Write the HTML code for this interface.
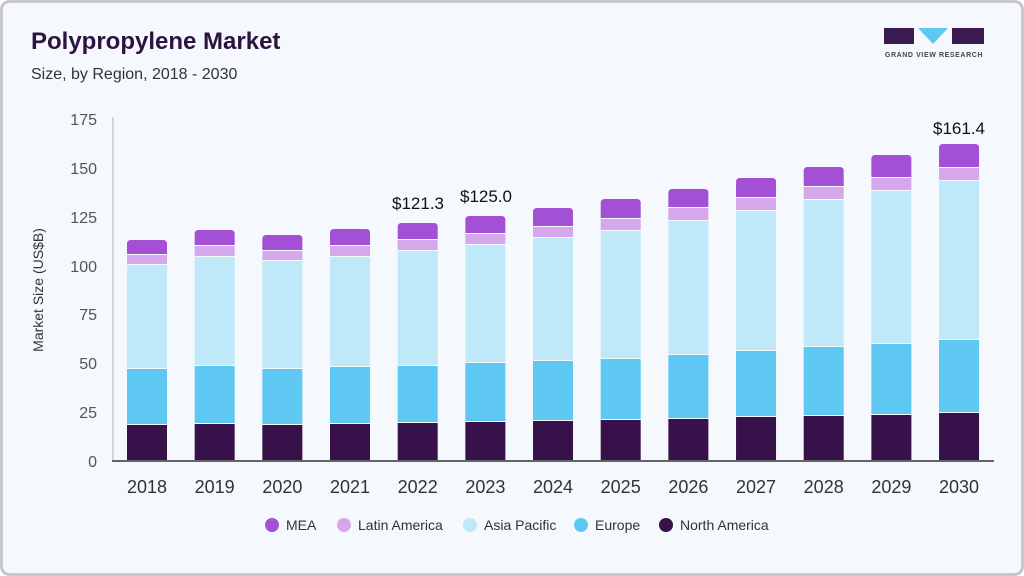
<!DOCTYPE html>
<html><head><style>
html,body{margin:0;padding:0;background:#fff}
body{width:1024px;height:576px;overflow:hidden}
svg{display:block;font-family:"Liberation Sans",Arial,sans-serif}
</style></head><body>
<svg width="1024" height="576" viewBox="0 0 1024 576">
<rect x="1.5" y="1.5" width="1021" height="573" rx="8" fill="#f5f8fc" stroke="#c8c8c8" stroke-width="3"/>
<text x="31" y="49" font-size="24" font-weight="bold" fill="#2d1440">Polypropylene Market</text>
<text x="31" y="79" font-size="16" fill="#333">Size, by Region, 2018 - 2030</text>
<g>
<rect x="884" y="28" width="30" height="16" fill="#3b1a4f"/>
<polygon points="918,28 948,28 933,44" fill="#5ec8f2"/>
<rect x="952" y="28" width="32" height="16" fill="#3b1a4f"/>
<text x="934" y="57" font-size="7" font-weight="bold" fill="#444" text-anchor="middle" letter-spacing="0.6">GRAND VIEW RESEARCH</text>
</g>
<g font-size="16" fill="#555" text-anchor="end">
<text x="97" y="125">175</text><text x="97" y="174">150</text><text x="97" y="223">125</text>
<text x="97" y="272">100</text><text x="97" y="320">75</text><text x="97" y="369">50</text>
<text x="97" y="418">25</text><text x="97" y="467">0</text>
</g>
<text transform="translate(43,290) rotate(-90)" font-size="14" fill="#333" text-anchor="middle">Market Size (US$B)</text>
<line x1="113" y1="117" x2="113" y2="461" stroke="#ccc" stroke-width="1.5"/>
<g id="bars"></g>
<line x1="112" y1="461" x2="994" y2="461" stroke="#333" stroke-width="1.5"/>
<g font-size="18" fill="#333" text-anchor="middle" id="xl"></g>
<g font-size="17" fill="#111" text-anchor="middle">
<text x="418" y="209">$121.3</text><text x="486" y="202">$125.0</text><text x="959" y="134">$161.4</text>
</g>
<g font-size="14" fill="#333">
<circle cx="272" cy="525" r="7" fill="#a34fd6"/><text x="286" y="530">MEA</text>
<circle cx="344" cy="525" r="7" fill="#d4a8ea"/><text x="358" y="530">Latin America</text>
<circle cx="470" cy="525" r="7" fill="#bfe9f9"/><text x="484" y="530">Asia Pacific</text>
<circle cx="581" cy="525" r="7" fill="#5ec8f2"/><text x="595" y="530">Europe</text>
<circle cx="666" cy="525" r="7" fill="#36114a"/><text x="680" y="530">North America</text>
</g>
</svg>
<script>
var d=[[425,369,265,255,240],[424,366,257,246,230],[425,369,261,251,235],[424,367,257,246,229],[423,366,251,240,223],[422,363,245,234,216],[421,361,238,227,208],[420,359,231,219,199],[419,355,221,208,189],[417,351,211,198,178],[416,347,200,187,167],[415,344,191,178,155],[413,340,181,168,144]];
var c=["#36114a","#5ec8f2","#bfe9f9","#d4a8ea","#a34fd6"];
var s="",l="";
d.forEach(function(b,i){var cx=147+i*67.67,x=cx-20,prev=461;
for(var k=0;k<5;k++){var t=b[k],h=prev-t;
if(k<4)s+='<rect x="'+x+'" y="'+t+'" width="40" height="'+(h-1)+'" fill="'+c[k]+'"/>';
else s+='<path d="M'+x+','+(prev-1)+'V'+(t+4)+'Q'+x+','+t+' '+(x+4)+','+t+'H'+(x+36)+'Q'+(x+40)+','+t+' '+(x+40)+','+(t+4)+'V'+(prev-1)+'Z" fill="'+c[k]+'"/>';
prev=t;}
l+='<text x="'+cx+'" y="493">'+(2018+i)+'</text>';});
document.getElementById("bars").innerHTML=s;document.getElementById("xl").innerHTML=l;
</script>
</body></html>
